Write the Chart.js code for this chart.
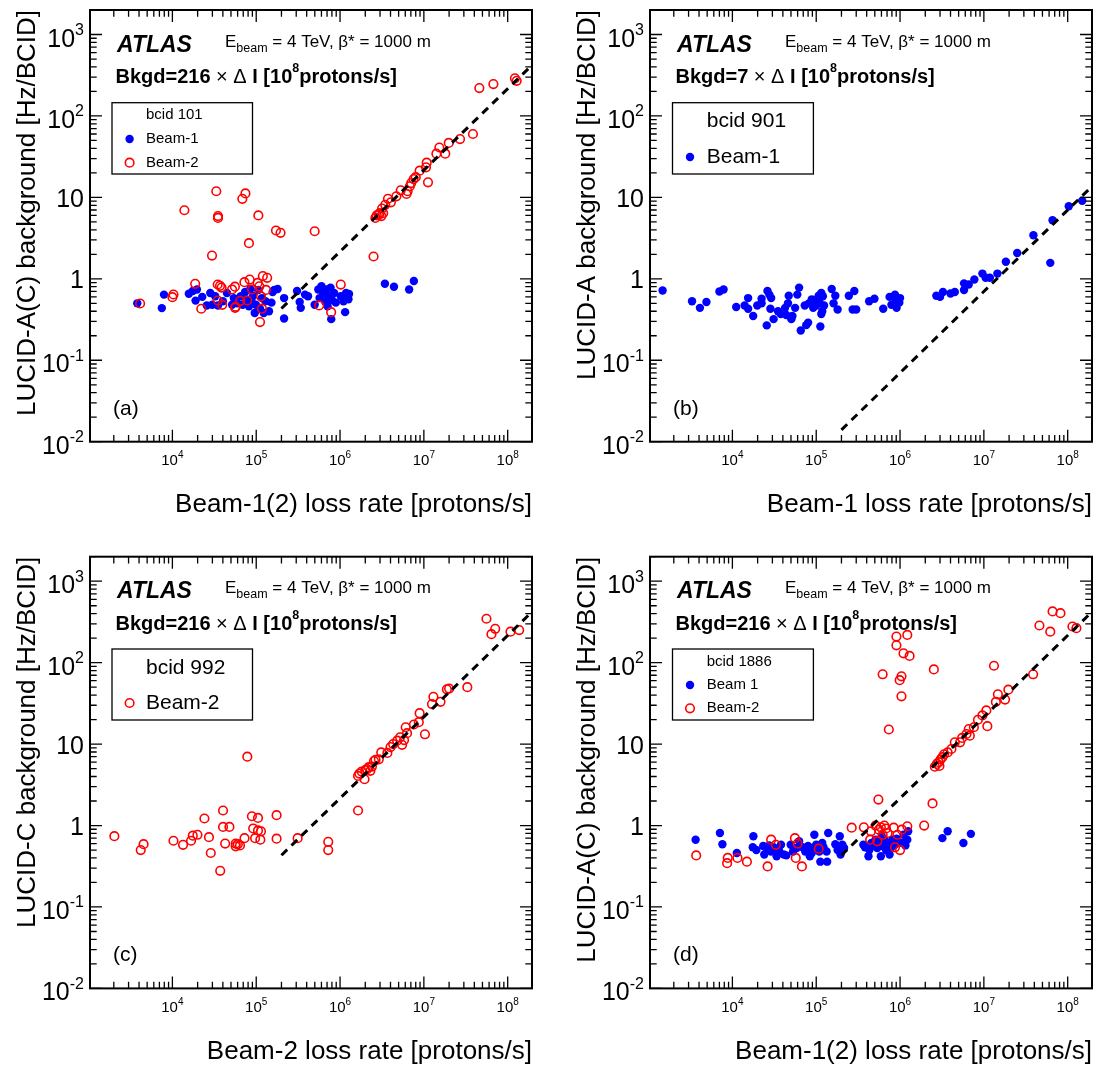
<!DOCTYPE html>
<html><head><meta charset="utf-8">
<script src="https://cdn.jsdelivr.net/npm/chart.js@4.4.0/dist/chart.umd.min.js"></script>
<style>
body{margin:0;background:#fff;width:1099px;height:1066px;overflow:hidden;position:relative}
canvas{position:absolute;left:0;top:0}
</style></head><body>
<canvas id="ca" width="1099" height="1066"></canvas>
<canvas id="cb" width="1099" height="1066"></canvas>
<canvas id="cc" width="1099" height="1066"></canvas>
<canvas id="cd" width="1099" height="1066"></canvas>
<script>
// ---------- axis ranges & tick labels ----------
const xRange = [1.04e3, 1.95e8];
const yRange = [0.01, 2000];
const yTickExps = [-2, -1, 0, 1, 2, 3];
const xTickExps = [4, 5, 6, 7, 8];

// ---------- fit lines (endpoints) ----------
const fit216X = [2e5, 2e8];
const fit216Y = [0.432, 432];
const fit7X = [2e5, 2e8];
const fit7Y = [0.014, 14];

// ---------- panel (a) bcid 101 ----------
const aBeam1X = [3.81e3,7.48e3,7.94e3,1.57e4,1.75e4,1.89e4,2.27e4,1.96e4,2.57e4,2.83e4,2.99e4,3.24e4,3.5e4,4.0e4,4.47e4,5.15e4,5.41e4,5.95e4,6.54e4,6.87e4,7.37e4,7.6e4,8.2e4,8.5e4,8.8e4,9.2e4,9.6e4,9.9e4,1.06e5,1.11e5,1.17e5,1.23e5,1.29e5,1.42e5,1.52e5,1.57e5,1.64e5,1.8e5,2.15e5,2.15e5,3.07e5,3.3e5,3.4e5,3.82e5,4.15e5,4.98e5,5.5e5,5.7e5,6.0e5,6.3e5,6.6e5,6.9e5,7.1e5,7.3e5,7.7e5,7.85e5,8.0e5,8.5e5,8.9e5,1.02e6,1.1e6,1.15e6,1.18e6,1.26e6,1.28e6,3.43e6,4.4e6,6.67e6,7.6e6];
const aBeam1Y = [0.50,0.437,0.64,0.655,0.71,0.54,0.60,0.74,0.47,0.67,0.48,0.61,0.47,0.53,0.67,0.48,0.58,0.50,0.61,0.48,0.69,0.56,0.46,0.75,0.53,0.62,0.38,0.48,0.73,0.43,0.58,0.38,0.53,0.40,0.51,0.69,0.73,0.75,0.58,0.326,0.71,0.52,0.44,0.64,0.61,0.48,0.74,0.58,0.81,0.67,0.53,0.74,0.46,0.61,0.78,0.32,0.55,0.67,0.51,0.61,0.53,0.39,0.67,0.56,0.65,0.87,0.80,0.74,0.94];
const aBeam2X = [1.22e8,1.28e8,6.75e7,4.59e7,3.85e7,2.70e7,1.98e7,1.53e7,1.8e7,1.41e7,1.08e7,1.06e7,8.9e6,1.12e7,8.0e6,7.55e6,7.06e6,6.8e6,6.4e6,6.2e6,5.3e6,4.7e6,4.04e6,3.73e6,3.46e6,3.17e6,2.97e6,2.74e6,2.64e6,3.11e6,3.27e6,2.9e6,2.51e6,
  3.34e4,7.43e4,6.83e4,1.39e4,3.5e4,3.5e4,1.06e5,1.72e5,1.95e5,4.98e5,8.19e4,2.97e4,
  4.12e3,1.03e4,1.0e4,1.87e4,2.21e4,3.47e4,3.7e4,3.86e4,3.47e4,3.93e4,5.15e4,5.57e4,5.68e4,5.6e4,6.44e4,7.23e4,7.8e4,8.35e4,8.94e4,1.04e5,1.09e5,1.2e5,1.35e5,1.14e5,1.17e5,1.11e5,1.31e5,5.64e5,7.83e5,1.02e6];
const aBeam2Y = [290,270,246,220,60,52,46.6,41,34.4,34.4,26.7,23.4,21.3,15.3,17.7,16.8,15.0,13.7,11.9,11.0,12.2,10.3,8.7,9.6,8.1,7.3,6.4,6.0,5.6,5.9,6.4,6.1,1.88,
  11.9,11.2,9.6,6.95,5.9,5.6,6.0,3.92,3.67,3.84,2.74,1.93,
  0.498,0.642,0.596,0.868,0.429,0.852,0.82,0.78,0.542,0.48,0.74,0.80,0.454,0.44,0.537,0.91,0.542,0.98,0.74,0.89,0.81,1.08,1.03,0.61,0.43,0.294,0.73,0.471,0.39,0.85];

// ---------- panel (b) bcid 901 ----------
const bBeam1X = [1.47e3,3.3e3,4.1e3,4.9e3,7.0e3,7.85e3,1.11e4,1.4e4,1.54e4,1.54e4,1.77e4,1.98e4,2.23e4,2.23e4,2.62e4,2.76e4,2.9e4,2.84e4,2.57e4,3.1e4,3.5e4,3.78e4,4.25e4,4.4e4,4.6e4,4.7e4,5.05e4,5.2e4,5.6e4,5.95e4,6.25e4,6.54e4,7.3e4,7.6e4,8.0e4,8.2e4,8.85e4,9.2e4,1.0e5,1.04e5,1.07e5,1.1e5,1.15e5,1.12e5,1.15e5,1.18e5,1.2e5,1.24e5,1.53e5,1.61e5,1.69e5,1.8e5,2.45e5,2.85e5,2.72e5,3.0e5,4.28e5,4.95e5,6.3e5,7.5e5,7.9e5,8.7e5,8.9e5,9.1e5,9.8e5,1.0e6,2.71e6,3.0e6,3.25e6,4.0e6,4.5e6,5.8e6,5.8e6,6.6e6,7.7e6,9.6e6,1.05e7,1.18e7,1.45e7,1.83e7,2.5e7,3.9e7,6.6e7,6.2e7,1.03e8,1.49e8];
const bBeam1Y = [0.72,0.53,0.44,0.52,0.70,0.74,0.45,0.47,0.58,0.43,0.35,0.47,0.57,0.50,0.71,0.64,0.58,0.43,0.268,0.32,0.40,0.37,0.44,0.36,0.50,0.62,0.32,0.35,0.44,0.64,0.78,0.232,0.47,0.27,0.29,0.50,0.56,0.44,0.47,0.57,0.62,0.51,0.37,0.26,0.67,0.40,0.61,0.47,0.75,0.50,0.62,0.42,0.62,0.71,0.42,0.42,0.53,0.57,0.43,0.60,0.48,0.64,0.53,0.44,0.51,0.58,0.62,0.60,0.69,0.66,0.69,0.73,0.88,0.85,0.98,1.16,1.03,1.03,1.16,1.62,2.08,3.43,5.25,1.57,7.8,9.1];

// ---------- panel (c) bcid 992 ----------
const cBeam2X = [2.03e3,4.19e3,4.53e3,1.03e4,1.34e4,1.67e4,1.75e4,1.99e4,2.41e4,2.73e4,2.87e4,3.72e4,4.02e4,4.02e4,4.26e4,4.79e4,5.69e4,5.69e4,6.03e4,6.4e4,7.25e4,7.83e4,8.88e4,9.2e4,9.7e4,1.05e5,1.05e5,1.12e5,1.14e5,1.75e5,1.75e5,3.12e5,7.23e5,7.23e5,1.64e6,1.64e6,1.7e6,1.81e6,1.96e6,2.0e6,2.1e6,2.2e6,2.3e6,2.4e6,2.54e6,2.65e6,2.9e6,3.1e6,3.67e6,4.0e6,4.3e6,4.8e6,5.2e6,5.5e6,5.8e6,6.07e6,6.3e6,7.6e6,8.9e6,8.7e6,1.03e7,1.25e7,1.3e7,1.58e7,1.88e7,2.0e7,3.3e7,5.58e7,6.4e7,7.1e7,1.08e8,1.37e8];
const cBeam2Y = [0.74,0.50,0.59,0.65,0.58,0.65,0.75,0.77,1.22,0.72,0.46,0.278,1.53,0.96,0.60,0.96,0.60,0.555,0.59,0.57,0.70,7.0,1.30,0.92,0.70,1.24,0.87,0.67,0.85,1.34,0.69,0.70,0.63,0.50,1.53,4.07,4.35,4.6,3.7,4.78,4.93,5.2,4.7,5.3,6.2,6.4,6.5,7.9,7.8,9.2,10,11,12.1,9.8,11.2,16.1,13.6,17.4,24,18.6,13.2,31,38,33,47,48,50,346,224,260,240,251];

// ---------- panel (d) bcid 1886 ----------
const dBeam1X = [3.64e3,7.1e3,7.6e3,1.13e4,1.78e4,1.75e4,1.93e4,2.33e4,2.4e4,2.57e4,2.75e4,2.9e4,3.1e4,3.37e4,3.6e4,3.8e4,4.1e4,4.4e4,4.96e4,5.3e4,5.85e4,6.25e4,6.9e4,7.4e4,8.0e4,8.4e4,8.85e4,9.2e4,9.5e4,1.0e5,1.09e5,1.12e5,1.18e5,1.22e5,1.33e5,1.35e5,1.39e5,1.69e5,1.8e5,1.91e5,1.95e5,2.05e5,2.15e5,3.65e5,3.82e5,4.2e5,4.3e5,4.55e5,4.9e5,5.1e5,5.35e5,5.6e5,5.9e5,6.05e5,6.2e5,6.5e5,6.8e5,7.1e5,7.5e5,7.9e5,8.1e5,8.7e5,9.1e5,1.05e6,1.1e6,1.16e6,1.22e6,1.25e6,3.2e6,3.7e6,5.7e6,7.0e6];
const dBeam1Y = [0.67,0.81,0.59,0.46,0.74,0.54,0.50,0.56,0.44,0.53,0.57,0.48,0.54,0.42,0.49,0.58,0.44,0.43,0.58,0.48,0.53,0.64,0.54,0.48,0.56,0.42,0.46,0.53,0.77,0.58,0.48,0.36,0.61,0.54,0.48,0.36,0.81,0.59,0.50,0.74,0.44,0.58,0.53,0.58,0.54,0.42,0.50,0.61,0.56,0.67,0.53,0.61,0.42,0.74,0.56,0.67,0.50,0.61,0.44,0.54,0.67,0.58,0.69,0.61,0.77,0.57,0.67,0.85,0.70,0.85,0.61,0.79];
const dBeam2X = [3.7e3,8.65e3,8.8e3,1.15e4,1.49e4,2.63e4,2.9e4,3.3e4,5.57e4,5.7e4,6.0e4,6.75e4,1.07e5,2.65e5,3.7e5,4.4e5,4.5e5,5.1e5,5.52e5,5.35e5,5.6e5,5.9e5,6.2e5,6.5e5,6.8e5,7.1e5,8.4e5,8.7e5,9.3e5,1.0e6,1.05e6,1.22e6,1.94e6,2.44e6,
  9.05e5,9.05e5,1.22e6,1.1e6,1.3e6,6.2e5,1.04e6,9.9e5,1.04e6,7.35e5,2.53e6,1.32e7,3.87e7,4.6e7,6.2e7,6.6e7,8.2e7,1.14e8,1.27e8,
  2.6e6,2.75e6,2.9e6,3.05e6,3.2e6,2.95e6,3.35e6,3.7e6,4.1e6,4.5e6,5.2e6,5.5e6,6.2e6,6.6e6,6.8e6,7.6e6,8.5e6,9.6e6,1.07e7,1.1e7,1.39e7,1.47e7,1.79e7,1.96e7];
const dBeam2Y = [0.43,0.345,0.40,0.40,0.36,0.315,0.67,0.58,0.70,0.40,0.60,0.315,0.52,0.94,0.95,0.67,0.85,1.0,2.08,0.64,0.89,0.95,0.77,1.0,0.92,0.81,0.94,0.54,0.77,0.50,0.89,0.98,1.0,1.87,
  209,163,219,130,121,72,68,61,38.6,15.1,82.6,91.6,72,286,240,426,405,278,265,
  5.27,5.7,6.0,6.5,6.9,5.4,7.5,7.9,8.7,10.5,10.5,11.9,13.3,15.3,12.7,16.1,19.9,22.5,25.9,16.6,32.9,40.8,35.2,46.6];

// ---------- helpers ----------
const FONT = '"Liberation Sans", Arial, Helvetica, sans-serif';
const fnt = (s, st) => (st ? st + ' ' : '') + s + 'px ' + FONT;
const pts = (xs, ys) => xs.map((x, i) => ({x: x, y: ys[i]}));
const BLUE = '#0000ff', RED = '#ff0000';
const R_BLUE = 4.2, R_RED = 4.3, W_RED = 1.6;

function rich(ctx, x, y, segs, align) {
  let w = 0;
  segs.forEach(s => { ctx.font = s.f; s.w = ctx.measureText(s.t).width; w += s.w; });
  let cx = align === 'right' ? x - w : (align === 'center' ? x - w / 2 : x);
  ctx.textAlign = 'left'; ctx.textBaseline = 'alphabetic';
  segs.forEach(s => { ctx.font = s.f; ctx.fillText(s.t, cx, y + (s.dy || 0)); cx += s.w; });
}

function drawDeco(chart, P) {
  const ctx = chart.ctx, xs = chart.scales.x, ys = chart.scales.y, A = chart.chartArea;
  const oy = P.oy, ox = P.ox;
  ctx.save();
  ctx.strokeStyle = '#000'; ctx.fillStyle = '#000';
  // ticks (inward on all sides)
  ctx.lineWidth = 1.3;
  ctx.beginPath();
  for (let e = -2; e <= 3; e++) for (let k = 1; k <= 9; k++) {
    const v = k * Math.pow(10, e);
    if (v < yRange[0] * 0.999 || v > yRange[1] * 1.001) continue;
    const py = ys.getPixelForValue(v);
    const L = k === 1 ? 12 : 6.7;
    ctx.moveTo(A.left, py); ctx.lineTo(A.left + L, py);
    ctx.moveTo(A.right, py); ctx.lineTo(A.right - L, py);
  }
  for (let e = 3; e <= 8; e++) for (let k = 1; k <= 9; k++) {
    const v = k * Math.pow(10, e);
    if (v < xRange[0] || v > xRange[1]) continue;
    const px = xs.getPixelForValue(v);
    const L = k === 1 ? 12 : 6.7;
    ctx.moveTo(px, A.bottom); ctx.lineTo(px, A.bottom - L);
    ctx.moveTo(px, A.top); ctx.lineTo(px, A.top + L);
  }
  ctx.stroke();
  // frame
  ctx.lineWidth = 2;
  ctx.strokeRect(A.left, A.top, A.right - A.left, A.bottom - A.top);
  // y tick labels
  yTickExps.forEach(e => {
    const py = ys.getPixelForValue(Math.pow(10, e));
    const rx = A.left - 6;
    if (e === 0) rich(ctx, rx, py + 9, [{t: '1', f: fnt(25)}], 'right');
    else if (e === 1) rich(ctx, rx, py + 9.5, [{t: '10', f: fnt(25)}], 'right');
    else rich(ctx, rx, py + 12, [{t: '10', f: fnt(25)}, {t: String(e), f: fnt(16), dy: -11.5}], 'right');
  });
  // x tick labels
  xTickExps.forEach(e => {
    const px = xs.getPixelForValue(Math.pow(10, e));
    rich(ctx, px, A.bottom + 23.3, [{t: '10', f: fnt(15)}, {t: String(e), f: fnt(10), dy: -7}], 'center');
  });
  // axis titles
  ctx.font = fnt(26);
  ctx.textAlign = 'right'; ctx.textBaseline = 'alphabetic';
  ctx.fillText(P.xTitle, A.right, 512 + oy);
  ctx.save();
  ctx.translate(35 + ox, A.top);
  ctx.rotate(-Math.PI / 2);
  ctx.fillText(P.yTitle, 0, 0);
  ctx.restore();
  // ATLAS label
  rich(ctx, 117 + ox, 51.7 + oy, [{t: 'ATLAS', f: fnt(23, 'italic bold')}], 'left');
  rich(ctx, 225 + ox, 46.7 + oy, [{t: 'E', f: fnt(17)}, {t: 'beam', f: fnt(12.5), dy: 5}, {t: ' = 4 TeV, \u03B2* = 1000 m', f: fnt(17)}], 'left');
  rich(ctx, 115.5 + ox, 83.3 + oy, [
    {t: 'Bkgd=' + P.slope, f: fnt(20, 'bold')}, {t: ' \u00D7 ', f: fnt(20)}, {t: '\u0394', f: fnt(20)},
    {t: ' I [10', f: fnt(20, 'bold')}, {t: '8', f: fnt(12.5, 'bold'), dy: -11}, {t: 'protons/s]', f: fnt(20, 'bold')}], 'left');
  // panel letter
  rich(ctx, 113 + ox, 414.5 + oy, [{t: P.letter, f: fnt(21)}], 'left');
  // legend box
  const L = P.leg;
  ctx.lineWidth = 1.3;
  ctx.strokeRect(L.x0, L.y0, L.x1 - L.x0, L.y1 - L.y0);
  ctx.textBaseline = 'middle'; ctx.textAlign = 'left';
  ctx.font = fnt(L.fs);
  ctx.fillText(L.head, L.tx, L.hy);
  L.items.forEach(it => {
    ctx.fillText(it.label, L.tx, it.y);
    ctx.beginPath();
    if (it.filled) {
      ctx.fillStyle = BLUE; ctx.arc(L.mx, it.y, R_BLUE, 0, Math.PI * 2); ctx.fill();
    } else {
      ctx.strokeStyle = RED; ctx.lineWidth = W_RED; ctx.arc(L.mx, it.y, R_RED, 0, Math.PI * 2); ctx.stroke();
    }
    ctx.fillStyle = '#000'; ctx.strokeStyle = '#000';
  });
  ctx.restore();
}

function blueSet(xs, ys) {
  return {label: 'Beam-1', data: pts(xs, ys), order: 2, pointRadius: R_BLUE, pointHoverRadius: R_BLUE,
    pointBackgroundColor: BLUE, pointBorderColor: BLUE, pointBorderWidth: 0, backgroundColor: BLUE, borderColor: BLUE};
}
function redSet(xs, ys) {
  return {label: 'Beam-2', data: pts(xs, ys), order: 1, pointRadius: R_RED, pointHoverRadius: R_RED,
    pointBackgroundColor: 'rgba(0,0,0,0)', pointBorderColor: RED, pointBorderWidth: W_RED, backgroundColor: 'rgba(0,0,0,0)', borderColor: RED};
}
function fitSet(xs, ys) {
  return {label: 'fit', data: pts(xs, ys), order: 0, showLine: true, pointRadius: 0, pointHoverRadius: 0,
    borderColor: '#000', borderWidth: 3, borderDash: [8, 6], fill: false};
}

function makePanel(id, P, datasets) {
  const l = 90 + P.ox, r = 532 + P.ox, t = 10 + P.oy, b = 441.7 + P.oy;
  new Chart(document.getElementById(id), {
    type: 'scatter',
    data: {datasets: datasets},
    options: {
      responsive: false, animation: false, devicePixelRatio: 1, events: [],
      layout: {padding: {left: l, right: 1099 - r, top: t, bottom: 1066 - b}},
      plugins: {legend: {display: false}, tooltip: {enabled: false}},
      scales: {
        x: {type: 'logarithmic', min: xRange[0], max: xRange[1], display: false, bounds: 'data'},
        y: {type: 'logarithmic', min: yRange[0], max: yRange[1], display: false, bounds: 'data'}
      }
    },
    plugins: [{id: 'deco' + id, afterDatasetsDraw(c) { drawDeco(c, P); }}]
  });
}

const OYC = 546.7, OXB = 560;

makePanel('ca', {ox: 0, oy: 0, letter: '(a)', slope: '216',
  xTitle: 'Beam-1(2) loss rate [protons/s]', yTitle: 'LUCID-A(C) background [Hz/BCID]',
  leg: {x0: 112, x1: 252.5, y0: 102.7, y1: 174, fs: 15, tx: 146, mx: 129.6, head: 'bcid 101', hy: 115,
    items: [{label: 'Beam-1', y: 139, filled: true}, {label: 'Beam-2', y: 162.7, filled: false}]}},
  [blueSet(aBeam1X, aBeam1Y), redSet(aBeam2X, aBeam2Y), fitSet(fit216X, fit216Y)]);

makePanel('cb', {ox: OXB, oy: 0, letter: '(b)', slope: '7',
  xTitle: 'Beam-1 loss rate [protons/s]', yTitle: 'LUCID-A background [Hz/BCID]',
  leg: {x0: 672.5, x1: 813.4, y0: 102.7, y1: 174, fs: 21, tx: 706.7, mx: 690, head: 'bcid 901', hy: 121,
    items: [{label: 'Beam-1', y: 157, filled: true}]}},
  [blueSet(bBeam1X, bBeam1Y), fitSet(fit7X, fit7Y)]);

makePanel('cc', {ox: 0, oy: OYC, letter: '(c)', slope: '216',
  xTitle: 'Beam-2 loss rate [protons/s]', yTitle: 'LUCID-C background [Hz/BCID]',
  leg: {x0: 112, x1: 252.5, y0: 649, y1: 720, fs: 21, tx: 146, mx: 129.6, head: 'bcid 992', hy: 668,
    items: [{label: 'Beam-2', y: 703, filled: false}]}},
  [redSet(cBeam2X, cBeam2Y), fitSet(fit216X, fit216Y)]);

makePanel('cd', {ox: OXB, oy: OYC, letter: '(d)', slope: '216',
  xTitle: 'Beam-1(2) loss rate [protons/s]', yTitle: 'LUCID-A(C) background [Hz/BCID]',
  leg: {x0: 672.5, x1: 813.4, y0: 649, y1: 720, fs: 15, tx: 706.7, mx: 690, head: 'bcid 1886', hy: 662,
    items: [{label: 'Beam 1', y: 685, filled: true}, {label: 'Beam-2', y: 708.3, filled: false}]}},
  [blueSet(dBeam1X, dBeam1Y), redSet(dBeam2X, dBeam2Y), fitSet(fit216X, fit216Y)]);
</script>
</body></html>
